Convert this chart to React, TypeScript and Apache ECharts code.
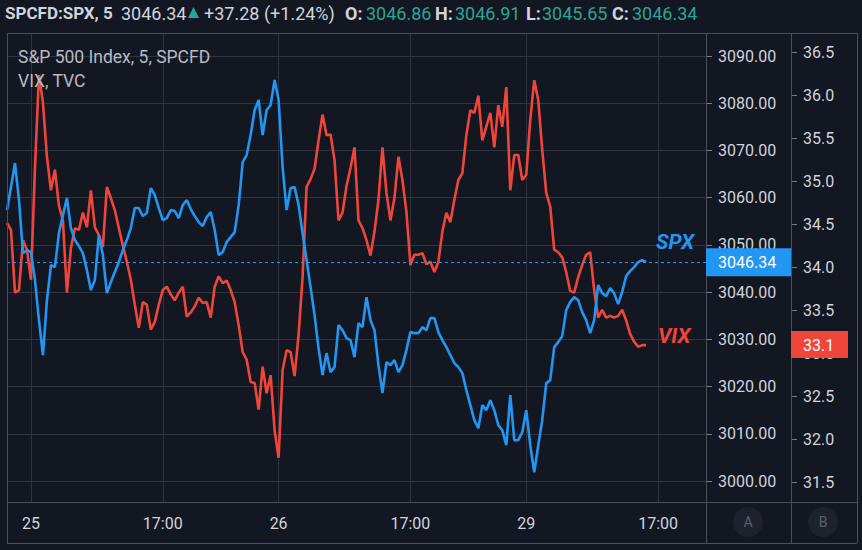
import React, { useEffect, useRef } from "react";
import * as echarts from "echarts";

// ---------- data ----------
const spx = [
  3057.37, 3062.25, 3067.33, 3059.49, 3048.26, 3048.9, 3048.47, 3042.54, 3034.07, 3026.65,
  3038.31, 3045.72, 3045.3, 3052.5, 3056.31, 3059.92, 3053.56, 3051.02, 3049.75, 3048.26,
  3044.66, 3040.42, 3042.54, 3052.08, 3047.84, 3039.79, 3042.12, 3044.24, 3046.36, 3048.9,
  3051.02, 3053.56, 3057.8, 3057.8, 3056.1, 3056.74, 3062.03, 3060.55, 3057.8, 3055.25,
  3055.68, 3057.37, 3057.16, 3055.68, 3058.43, 3059.49, 3057.58, 3056.1, 3054.83, 3053.98,
  3055.89, 3056.95, 3053.14, 3047.84, 3048.47, 3050.59, 3051.65, 3052.71, 3058.43, 3067.54,
  3069.03, 3073.26, 3078.56, 3080.68, 3073.26, 3078.56, 3079.62, 3084.92, 3080.68, 3066.48,
  3057.37, 3062.03, 3062.25, 3058.43, 3052.5, 3046.78, 3041.06, 3035.13, 3028.14, 3022.42,
  3027.08, 3023.05, 3024.11, 3033.01, 3031.95, 3030.25, 3029.83, 3026.23, 3033.43, 3032.58,
  3038.94, 3034.07, 3031.95, 3024.53, 3018.6, 3025.17, 3024.53, 3025.59, 3023.05, 3024.53,
  3027.71, 3031.53, 3031.31, 3031.31, 3032.58, 3031.95, 3034.49, 3034.49, 3031.53, 3029.83,
  3028.35, 3026.65, 3024.96, 3024.11, 3022.84, 3019.24, 3016.06, 3012.88, 3011.19, 3016.06,
  3015.0, 3017.12, 3015.0, 3011.82, 3010.76, 3007.58, 3018.18, 3008.64, 3008.64, 3010.34,
  3015.0, 3007.58, 3001.86, 3007.58, 3012.88, 3020.72, 3021.36, 3028.35, 3029.41, 3030.68,
  3036.19, 3037.88, 3038.94, 3038.31, 3035.76, 3034.07, 3031.31, 3034.07, 3041.48, 3039.79,
  3039.15, 3040.85, 3039.79, 3037.46, 3040.0, 3043.39, 3044.45, 3045.3, 3046.36, 3046.78,
  3046.34,
];

const vix = [
  34.52, 34.44, 33.71, 33.74, 34.32, 34.21, 33.86, 35.16, 36.24, 35.92,
  35.29, 34.9, 35.14, 34.72, 34.55, 33.71, 34.23, 34.46, 34.44, 34.64,
  34.47, 34.9, 34.47, 34.38, 34.24, 34.94, 34.81, 34.67, 34.46, 34.26,
  34.07, 33.86, 33.57, 33.3, 33.6, 33.57, 33.28, 33.37, 33.57, 33.74,
  33.78, 33.69, 33.62, 33.71, 33.78, 33.43, 33.48, 33.55, 33.65, 33.59,
  33.6, 33.42, 33.78, 33.9, 33.82, 33.85, 33.74, 33.6, 33.33, 33.02,
  32.93, 32.67, 32.66, 32.35, 32.85, 32.54, 32.75, 32.11, 31.79, 32.81,
  33.04, 33.02, 32.74, 33.22, 33.89, 34.94, 35.03, 35.15, 35.48, 35.78,
  35.54, 35.55, 35.25, 34.55, 34.64, 34.95, 35.16, 35.4, 34.55, 34.46,
  34.32, 34.14, 34.42, 34.79, 35.4, 34.87, 34.55, 34.81, 35.29, 35.02,
  34.65, 34.03, 34.15, 34.15, 34.17, 34.04, 34.07, 33.95, 34.07, 34.42,
  34.64, 34.53, 34.79, 35.02, 35.1, 35.54, 35.83, 35.8, 36.0, 35.48,
  35.64, 35.8, 35.4, 35.89, 35.64, 36.1, 34.9, 35.31, 35.31, 35.02,
  35.08, 35.72, 36.18, 35.95, 35.37, 34.87, 34.71, 34.21, 34.18, 34.12,
  33.95, 33.73, 33.71, 33.89, 34.03, 34.15, 34.18, 33.74, 33.42, 33.51,
  33.42, 33.44, 33.42, 33.44, 33.51, 33.39, 33.23, 33.14, 33.08, 33.1,
  33.1,
];

const timeTickLabels = ["25", "17:00", "26", "17:00", "29", "17:00"];
const timeTickIndex = [6, 39, 68, 101, 130, 163];
const slotCount = 176;

const spxRange = [3000, 3090];
const spxStep = 10;
const vixRange = [31.5, 36.5];
const vixStep = 0.5;

const symbolTitle = "SPCFD:SPX, 5";
const changeText = "+37.28 (+1.24%)";
const ohlcKeys = ["O:", "H:", "L:", "C:"];
const ohlcValues = [3046.86, 3046.91, 3045.65, 3046.34];
const legendLines = ["S&P 500 Index, 5, SPCFD", "VIX, TVC"];
const seriesNames = ["SPX", "VIX"];
const paneButtons = ["A", "B"];

// ---------- style ----------
const BG = "#131722";
const GRID = "#2f333e";
const FRAME = "#4c505b";
const TEXT = "#d1d4dc";
const TEAL = "#26a69a";
const BLUE = "#2196f3";
const RED = "#f0463a";
const FONT = "Roboto, 'Noto Sans', sans-serif";

export default function App() {
  const ref = useRef<HTMLDivElement>(null);

  useEffect(() => {
    const chart = echarts.init(ref.current!, null, { renderer: "svg" });
    const cats = Array.from({ length: slotCount }, (_, i) => {
      const k = timeTickIndex.indexOf(i);
      return k >= 0 ? timeTickLabels[k] : "";
    });
    const showAt = (i: number) => timeTickIndex.includes(i);
    const hiddenX = (gridIndex: number) => ({
      type: "category",
      gridIndex,
      data: cats,
      boundaryGap: false,
      show: false,
    });

    chart.setOption({
      animation: false,
      backgroundColor: BG,
      textStyle: { fontFamily: FONT },
      grid: [
        { left: 7, top: 33, width: 699, height: 469 },
        { left: 7, top: 56, width: 699, height: 425 },
        { left: 7, top: 52.7, width: 699, height: 430 },
      ],
      xAxis: [
        {
          type: "category",
          gridIndex: 0,
          data: cats,
          boundaryGap: false,
          axisLine: { show: false },
          axisTick: { show: false },
          axisLabel: {
            interval: (i: number) => showAt(i),
            color: TEXT,
            fontSize: 16,
            fontFamily: FONT,
            margin: 13,
          },
          splitLine: {
            show: true,
            interval: (i: number) => showAt(i),
            lineStyle: { color: GRID, width: 1 },
          },
        },
        hiddenX(1),
        hiddenX(2),
      ],
      yAxis: [
        { type: "value", gridIndex: 0, show: false },
        {
          type: "value",
          gridIndex: 1,
          position: "right",
          min: spxRange[0],
          max: spxRange[1],
          interval: spxStep,
          axisLine: { show: false },
          axisTick: { show: true, length: 6, lineStyle: { color: "#787b86" } },
          axisLabel: {
            color: TEXT,
            fontSize: 16,
            fontFamily: FONT,
            margin: 12,
            formatter: (v: number) => v.toFixed(2),
          },
          splitLine: { show: true, lineStyle: { color: GRID, width: 1 } },
        },
        {
          type: "value",
          gridIndex: 2,
          position: "right",
          offset: 85,
          min: vixRange[0],
          max: vixRange[1],
          interval: vixStep,
          axisLine: { show: false },
          axisTick: { show: true, length: 6, lineStyle: { color: "#787b86" } },
          axisLabel: {
            color: TEXT,
            fontSize: 16,
            fontFamily: FONT,
            margin: 12,
            formatter: (v: number) => v.toFixed(1),
          },
          splitLine: { show: false },
        },
      ],
      series: [
        {
          name: seriesNames[1],
          type: "line",
          xAxisIndex: 2,
          yAxisIndex: 2,
          data: vix,
          showSymbol: false,
          clip: false,
          lineStyle: { color: RED, width: 2.6 },
          itemStyle: { color: RED },
        },
        {
          name: seriesNames[0],
          type: "line",
          xAxisIndex: 1,
          yAxisIndex: 1,
          data: spx,
          showSymbol: false,
          clip: false,
          lineStyle: { color: BLUE, width: 2.6 },
          itemStyle: { color: BLUE },
          markLine: {
            silent: true,
            symbol: "none",
            label: { show: false },
            lineStyle: { type: [3, 3], color: BLUE, width: 1 },
            data: [{ yAxis: spx[spx.length - 1] }],
          },
        },
      ],
    });

    const lastSpx = spx[spx.length - 1];
    const lastVix = vix[vix.length - 1];
    const py = chart.convertToPixel({ yAxisIndex: 1 }, lastSpx) as number;
    const vy = chart.convertToPixel({ yAxisIndex: 2 }, lastVix) as number;

    const hline = (x1: number, x2: number, y: number) => ({
      type: "line",
      z: 50,
      shape: { x1, y1: y, x2, y2: y },
      style: { stroke: FRAME, lineWidth: 1 },
    });
    const vline = (x: number, y1: number, y2: number) => ({
      type: "line",
      z: 50,
      shape: { x1: x, y1, x2: x, y2 },
      style: { stroke: FRAME, lineWidth: 1 },
    });
    const txt = (x: number, y: number, text: string, fill: string, extra: any = {}) => ({
      type: "text",
      x,
      y,
      z: 60,
      style: {
        text,
        fill,
        fontSize: 18,
        fontFamily: FONT,
        verticalAlign: "middle",
        align: "left",
        ...extra,
      },
    });

    const ohlcKeyX = [345, 435, 526, 612];
    const ohlcValX = [366, 455, 542, 632];

    const graphic: any[] = [
      hline(7, 857, 33.5),
      hline(7, 857, 502.5),
      hline(7, 857, 543.5),
      vline(7.5, 33, 543),
      vline(706.5, 33, 543),
      vline(791.5, 33, 543),
      vline(857.5, 33, 543),
      // header
      txt(5, 13, symbolTitle, TEXT, { fontWeight: "bold", fontSize: 17 }),
      txt(121, 13, lastSpx.toFixed(2), TEXT),
      {
        type: "polygon",
        z: 60,
        shape: { points: [[188, 18], [199, 18], [193.5, 7]] },
        style: { fill: TEAL },
      },
      txt(204, 13, changeText, TEXT),
      ...ohlcKeys.map((k, i) => txt(ohlcKeyX[i], 13, k, TEXT, { fontWeight: "bold" })),
      ...ohlcValues.map((v, i) => txt(ohlcValX[i], 13, v.toFixed(2), TEAL)),
      // legend
      txt(18, 57, legendLines[0], "#b8bbc3", { fontSize: 17.5 }),
      txt(18, 81, legendLines[1], "#b8bbc3", { fontSize: 17.5 }),
      // series labels
      txt(656, 242, seriesNames[0], BLUE, { fontSize: 21, fontStyle: "italic", fontWeight: "bold" }),
      txt(658, 336, seriesNames[1], RED, { fontSize: 21, fontStyle: "italic", fontWeight: "bold" }),
      // price boxes
      {
        type: "rect",
        z: 70,
        shape: { x: 706, y: py - 14, width: 85, height: 28 },
        style: { fill: BLUE },
      },
      { ...txt(718, py, lastSpx.toFixed(2), "#ffffff", { fontSize: 16 }), z: 71 },
      {
        type: "rect",
        z: 70,
        shape: { x: 791, y: vy - 14, width: 57, height: 27 },
        style: { fill: RED },
      },
      { ...txt(803, vy, lastVix.toFixed(1), "#ffffff", { fontSize: 16 }), z: 71 },
      // pane buttons
      ...paneButtons.map((b, i) => ({
        type: "group",
        z: 60,
        children: [
          {
            type: "circle",
            shape: { cx: [748, 823][i], cy: 522, r: 15 },
            style: { fill: "#1e222d" },
          },
          {
            type: "text",
            x: [748, 823][i],
            y: 522,
            style: {
              text: b,
              fill: "#5d606b",
              fontSize: 14,
              fontFamily: FONT,
              align: "center",
              verticalAlign: "middle",
            },
          },
        ],
      })),
    ];

    chart.setOption({ graphic });

    return () => chart.dispose();
  }, []);

  return (
    <div
      ref={ref}
      style={{ position: "fixed", left: 0, top: 0, width: 862, height: 550, background: BG }}
    />
  );
}
